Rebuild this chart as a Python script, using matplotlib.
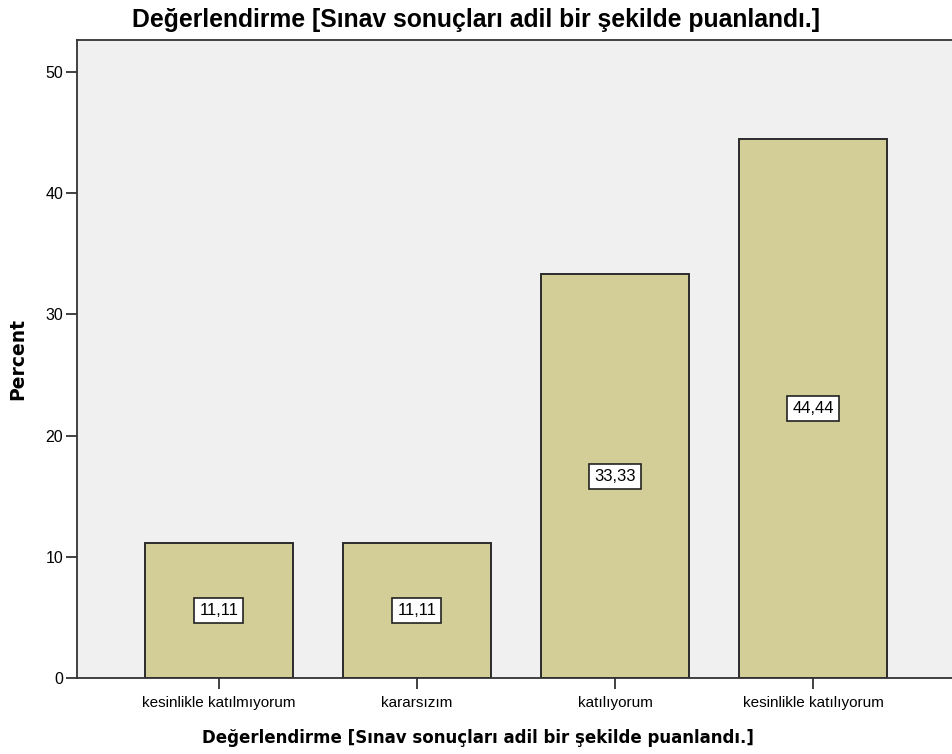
import matplotlib
matplotlib.use("Agg")
import matplotlib.pyplot as plt
import numpy as np

categories = ["kesinlikle katılmıyorum", "kararsızım", "katılıyorum", "kesinlikle katılıyorum"]
percents = [11.11, 11.11, 33.33, 44.44]
value_labels = ["11,11", "11,11", "33,33", "44,44"]
yticks = [0, 10, 20, 30, 40, 50]
title = "Değerlendirme [Sınav sonuçları adil bir şekilde puanlandı.]"

plt.rcParams['font.family'] = ['Liberation Sans', 'DejaVu Sans']

fig = plt.figure(figsize=(9.52, 7.54), dpi=100, facecolor='white')
ax = fig.add_axes([77 / 952, 76 / 754, (955 - 77) / 952, (678 - 40) / 754])
ax.set_facecolor('#f0f0f0')

x = np.arange(len(categories))
ax.bar(x, percents, width=0.747, color='#d3ce98', edgecolor='#2b2b2b', linewidth=1.4, zorder=2)

# value labels in boxes at the middle of each bar
for xi, v, lab in zip(x, percents, value_labels):
    ax.text(xi, v / 2, lab, ha='center', va='center', fontsize=12, color='black', zorder=3,
            bbox=dict(boxstyle='square,pad=0.3', facecolor='white', edgecolor='#222222', linewidth=1.2))

ax.set_xlim(-0.717, 3.717)
ax.set_ylim(0, 52.64)
ax.set_yticks(yticks)
ax.set_xticks(x)
ax.set_xticklabels(categories, fontsize=11)
ax.tick_params(axis='y', labelsize=11.5, length=8, width=1.3, color='#333333', pad=2)
ax.tick_params(axis='x', length=8, width=1.3, color='#333333', pad=5)

for side in ['left', 'bottom', 'top']:
    ax.spines[side].set_color('#333333')
    ax.spines[side].set_linewidth(1.3)
ax.spines['right'].set_visible(False)

ax.set_ylabel("Percent", fontsize=13.5, fontweight='bold', family=['DejaVu Sans'])
ax.yaxis.set_label_coords(-0.057, 0.5)
ax.set_xlabel(title, fontsize=12, fontweight='bold', family=['DejaVu Sans'])
ax.xaxis.set_label_coords(0.457, -0.080)
fig.text(0.5, 1 - 20 / 754, title, ha='center', va='center', fontsize=17.8, fontweight='bold')

fig.savefig("out.png", dpi=100, facecolor='white')
